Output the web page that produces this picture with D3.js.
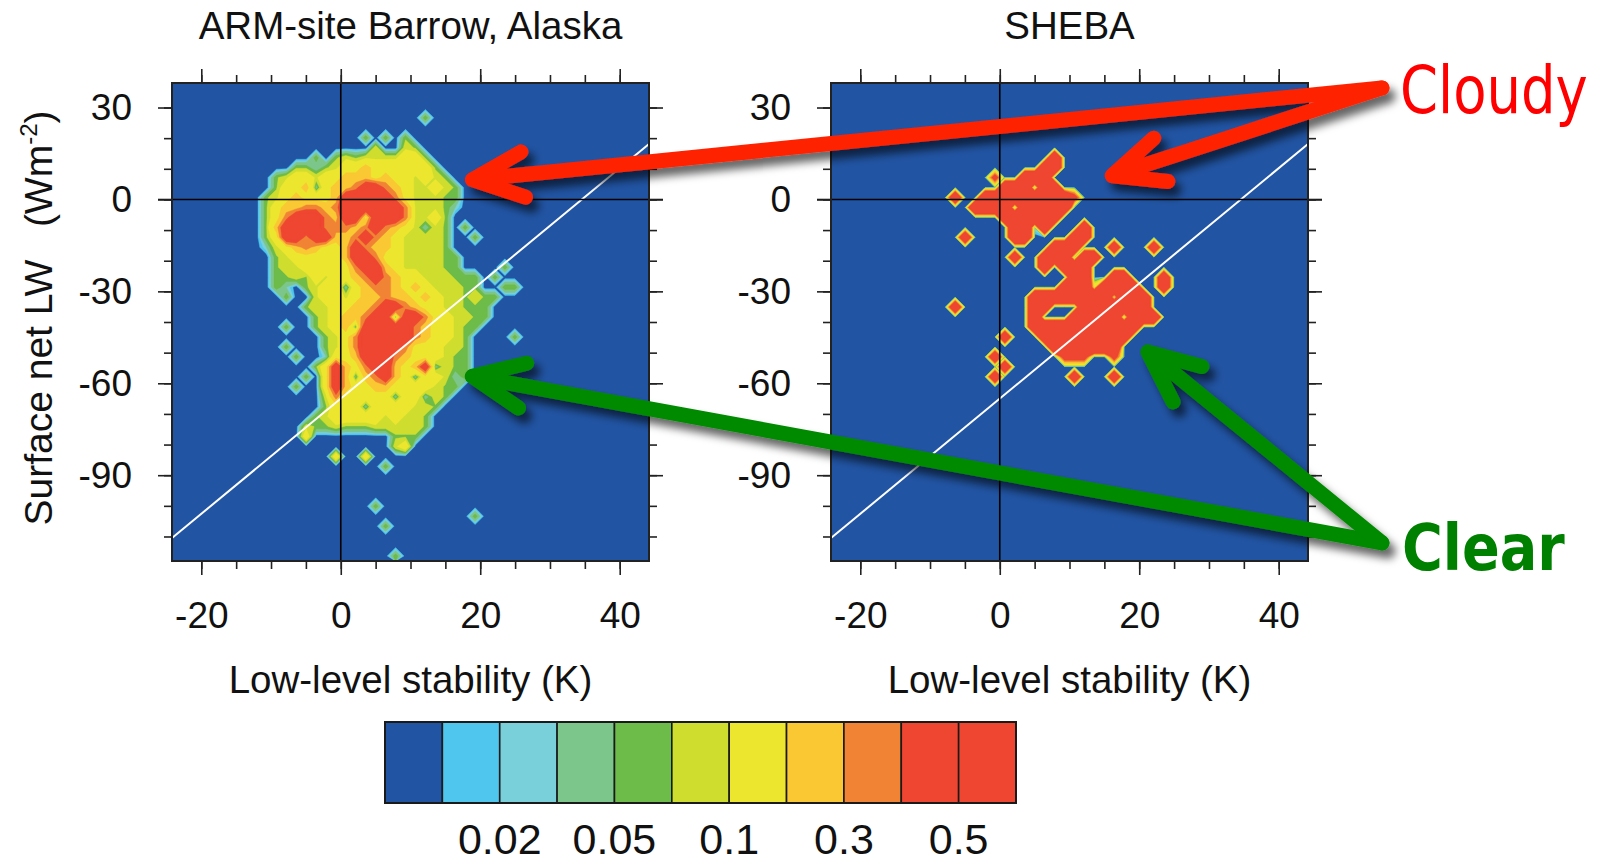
<!DOCTYPE html>
<html>
<head>
<meta charset="utf-8">
<script src="https://cdn.jsdelivr.net/npm/d3@7"></script>
<style>
  html, body { margin: 0; padding: 0; background: #ffffff; }
  svg { display: block; }
  text { font-family: "Liberation Sans", Arial, Helvetica, sans-serif; fill: #111; }
</style>
</head>
<body>
<svg id="chart" width="1605" height="864"></svg>
<script>
// ---- contour levels and colours (colour i fills values between level i-1 and level i)
const levels = [0.01, 0.02, 0.03, 0.05, 0.07, 0.1, 0.2, 0.3, 0.4, 0.5];
const levelColors = ["#2154a3", "#4fc6ee", "#79d0db", "#7dc68b", "#6dbb48", "#cedd2e",
                     "#ede62f", "#f9c833", "#f08434", "#ee4631", "#ee4631"];
const levelLabels = ["", "0.02", "", "0.05", "", "0.1", "", "0.3", "", "0.5"];

// ---- axes
const xDomain = [-24.2, 44.2];
const yDomain = [-118, 38];
const xTicks = [-20, 0, 20, 40];
const xMinorTicks = d3.range(-20, 45, 5);
const yTicks = [30, 0, -30, -60, -90];
const yMinorTicks = d3.range(-110, 31, 10);

// cloudy / clear separation line: LW = slope * stability + intercept
const lineSlope = 1.88;
const lineIntercept = -65;

// ---- joint frequency on a 48 x 48 grid (row 0 = top, column 0 = left)
// each run: [row, first column, digit codes]; digit -> frequency via codeValues
const gridSize = 48;
const codeValues = [0, 0.03, 0.065, 0.09, 0.15, 0.25, 0.35, 0.6, 1.0, 1.2];

const barrowRuns = [
  [3, 25, "2"],
  [5, 19, "20202"],
  [6, 20, "30032"],
  [7, 14, "2"],
  [7, 16, "2323333442"],
  [8, 12, "221234454444442"],
  [9, 10, "234434455545443432"],
  [10, 10, "2445145567765433432"],
  [11, 9, "23454445777776433322"],
  [12, 9, "24556656777777633321"],
  [13, 9, "2467776577477763342"],
  [14, 9, "257777666567654313202"],
  [15, 9, "2477677556765433332002"],
  [16, 9, "1345654457655433332"],
  [17, 10, "2344444577644333322"],
  [18, 10, "2334444467754333322"],
  [18, 33, "2"],
  [19, 10, "223243445676544333222"],
  [19, 32, "2"],
  [20, 10, "210234414566545433322"],
  [20, 33, "22"],
  [21, 11, "2003443455655454332322"],
  [22, 13, "2334455677654433222"],
  [23, 14, "234556771776443322"],
  [24, 11, "2"],
  [24, 14, "23451777776544322"],
  [25, 15, "234677777654432"],
  [25, 34, "2"],
  [26, 11, "2"],
  [26, 15, "234677776444332"],
  [27, 12, "2"],
  [27, 15, "144577765444322"],
  [28, 14, "2475467754571322"],
  [29, 13, "2"],
  [29, 15, "475156754144312"],
  [30, 12, "2"],
  [30, 15, "47544554444322"],
  [31, 15, "3644444144132"],
  [32, 15, "244414444332"],
  [33, 14, "234444434332"],
  [34, 13, "3223222333332"],
  [35, 13, "4"],
  [35, 22, "222"],
  [36, 22, "34"],
  [37, 16, "4"],
  [37, 19, "4"],
  [38, 21, "2"],
  [42, 20, "2"],
  [43, 30, "2"],
  [44, 21, "2"],
  [47, 22, "2"]
];

const shebaRuns = [
  [7, 22, "9"],
  [8, 21, "99"],
  [9, 16, "7"],
  [9, 19, "999"],
  [10, 17, "999199"],
  [11, 12, "8"],
  [11, 15, "9999999997"],
  [12, 14, "9999199999"],
  [13, 17, "999999"],
  [14, 18, "9919"],
  [14, 25, "9"],
  [15, 13, "8"],
  [15, 18, "99"],
  [15, 24, "99"],
  [16, 22, "999"],
  [16, 28, "8"],
  [16, 32, "8"],
  [17, 18, "8"],
  [17, 21, "999199"],
  [18, 21, "90999"],
  [19, 24, "99"],
  [19, 28, "99"],
  [19, 33, "8"],
  [20, 23, "99949999"],
  [20, 33, "8"],
  [21, 20, "999999994999"],
  [22, 12, "8"],
  [22, 20, "990009999999"],
  [23, 20, "9000999991999"],
  [24, 20, "99999999999"],
  [25, 17, "8"],
  [25, 21, "999999999"],
  [26, 22, "9999999"],
  [27, 16, "8"],
  [27, 23, "777"],
  [27, 28, "7"],
  [28, 17, "8"],
  [29, 16, "8"],
  [29, 24, "8"],
  [29, 28, "8"]
];

// ---- annotation arrows: tails given in SHEBA panel coordinates, heads in their own panel
const arrowSpecs = [
  { color: "#ff2200", tail: [54.8, 36.4],   head: { panel: 0, at: [17.8, 6.2] } },
  { color: "#ff2200", tail: [54.8, 36.4],   head: { panel: 1, at: [15.1, 7.0] } },
  { color: "#008a00", tail: [54.8, -112.1], head: { panel: 0, at: [17.8, -57.3] } },
  { color: "#008a00", tail: [54.8, -112.1], head: { panel: 1, at: [20.4, -48.2] } }
];

// ---------------------------------------------------------------------------
const svg = d3.select("#chart");
const plotTop = 83, plotW = 477, plotH = 478;
const panels = [
  { title: "ARM-site Barrow, Alaska", runs: barrowRuns, left: 172 },
  { title: "SHEBA", runs: shebaRuns, left: 831 }
];
const tickFormat = d => String(d);

const defs = svg.append("defs");
const shadow = defs.append("filter").attr("id", "arrowShadow")
  .attr("filterUnits", "userSpaceOnUse")
  .attr("x", 0).attr("y", 0).attr("width", 1605).attr("height", 864);
shadow.append("feDropShadow")
  .attr("dx", 6).attr("dy", 8).attr("stdDeviation", 4.5)
  .attr("flood-color", "#000").attr("flood-opacity", 0.6);

function buildGrid(runs) {
  const values = new Array(gridSize * gridSize).fill(0);
  runs.forEach(([row, col, codes]) => {
    for (let i = 0; i < codes.length; i++) {
      values[row * gridSize + col + i] = codeValues[+codes[i]];
    }
  });
  return values;
}

const contourGen = d3.contours().size([gridSize, gridSize]).thresholds(levels);
const cellX = (xDomain[1] - xDomain[0]) / gridSize;
const cellY = (yDomain[1] - yDomain[0]) / gridSize;

panels.forEach((p, idx) => {
  p.x = d3.scaleLinear().domain(xDomain).range([p.left, p.left + plotW]);
  p.y = d3.scaleLinear().domain(yDomain).range([plotTop + plotH, plotTop]);
  const x = p.x, y = p.y;
  const g = svg.append("g").attr("class", "panel");

  const clipId = "clip" + idx;
  defs.append("clipPath").attr("id", clipId)
    .append("rect").attr("x", p.left).attr("y", plotTop).attr("width", plotW).attr("height", plotH);

  const body = g.append("g").attr("clip-path", `url(#${clipId})`);
  body.append("rect")
    .attr("x", p.left).attr("y", plotTop).attr("width", plotW).attr("height", plotH)
    .attr("fill", levelColors[0]);

  // grid coordinates -> data -> pixels
  const proj = d3.geoTransform({
    point(gx, gy) {
      this.stream.point(x(xDomain[0] + gx * cellX), y(yDomain[1] - gy * cellY));
    }
  });
  const path = d3.geoPath(proj);
  const bands = contourGen(buildGrid(p.runs));
  body.selectAll("path.band").data(bands).join("path")
    .attr("class", "band")
    .attr("d", path)
    .attr("fill", (d, i) => levelColors[i + 1])
    .attr("stroke", (d, i) => levelColors[i + 1])
    .attr("stroke-width", 0.4);

  // separation line
  body.append("line")
    .attr("x1", x(xDomain[0])).attr("y1", y(lineSlope * xDomain[0] + lineIntercept))
    .attr("x2", x(xDomain[1])).attr("y2", y(lineSlope * xDomain[1] + lineIntercept))
    .attr("stroke", "#ffffff").attr("stroke-width", 2);

  // zero lines
  body.append("line")
    .attr("x1", x(0)).attr("x2", x(0)).attr("y1", plotTop).attr("y2", plotTop + plotH)
    .attr("stroke", "#000").attr("stroke-width", 1.6);
  g.append("line")
    .attr("x1", p.left - 14).attr("x2", p.left + plotW + 14).attr("y1", y(0)).attr("y2", y(0))
    .attr("stroke", "#000").attr("stroke-width", 1.6);

  // frame
  g.append("rect")
    .attr("x", p.left).attr("y", plotTop).attr("width", plotW).attr("height", plotH)
    .attr("fill", "none").attr("stroke", "#222").attr("stroke-width", 2);

  const styleAxis = sel => {
    sel.select(".domain").remove();
    sel.selectAll(".tick line").attr("stroke", "#222").attr("stroke-width", 1.6);
    sel.selectAll(".tick text").style("font-size", "37px").attr("fill", "#111")
      .attr("font-family", "Liberation Sans, Arial, sans-serif");
  };

  // minor ticks on all sides
  g.append("g").attr("transform", `translate(0,${plotTop + plotH})`)
    .call(d3.axisBottom(x).tickValues(xMinorTicks).tickSize(8).tickFormat("")).call(styleAxis);
  g.append("g").attr("transform", `translate(0,${plotTop})`)
    .call(d3.axisTop(x).tickValues(xMinorTicks).tickSize(8).tickFormat("")).call(styleAxis);
  g.append("g").attr("transform", `translate(${p.left},0)`)
    .call(d3.axisLeft(y).tickValues(yMinorTicks).tickSize(8).tickFormat("")).call(styleAxis);
  g.append("g").attr("transform", `translate(${p.left + plotW},0)`)
    .call(d3.axisRight(y).tickValues(yMinorTicks).tickSize(8).tickFormat("")).call(styleAxis);

  // major ticks with labels
  g.append("g").attr("transform", `translate(0,${plotTop + plotH})`)
    .call(d3.axisBottom(x).tickValues(xTicks).tickSize(14).tickPadding(27).tickFormat(tickFormat))
    .call(styleAxis);
  g.append("g").attr("transform", `translate(0,${plotTop})`)
    .call(d3.axisTop(x).tickValues(xTicks).tickSize(14).tickFormat("")).call(styleAxis);
  g.append("g").attr("transform", `translate(${p.left},0)`)
    .call(d3.axisLeft(y).tickValues(yTicks).tickSize(14).tickPadding(26).tickFormat(tickFormat))
    .call(styleAxis);
  g.append("g").attr("transform", `translate(${p.left + plotW},0)`)
    .call(d3.axisRight(y).tickValues(yTicks).tickSize(14).tickFormat("")).call(styleAxis);

  // titles
  g.append("text")
    .attr("x", p.left + plotW / 2).attr("y", 39)
    .attr("text-anchor", "middle").style("font-size", "38.5px")
    .text(p.title);
  g.append("text")
    .attr("x", p.left + plotW / 2).attr("y", 693)
    .attr("text-anchor", "middle").style("font-size", "38.5px")
    .text("Low-level stability (K)");
});

// y axis title
const yTitle = svg.append("text")
  .attr("transform", `translate(52,${plotTop + plotH / 2 - 4}) rotate(-90)`)
  .attr("text-anchor", "middle").style("font-size", "39px");
yTitle.append("tspan").text("Surface net LW\u00a0\u00a0 (Wm");
yTitle.append("tspan").attr("dy", -15).style("font-size", "24px").text("-2");
yTitle.append("tspan").attr("dy", 15).text(")");

// ---- colour bar
const cb = { left: 385, right: 1016, top: 722, bottom: 803 };
const cbScale = d3.scaleLinear().domain([0, levelColors.length]).range([cb.left, cb.right]);
const cbg = svg.append("g");
cbg.selectAll("rect.box").data(levelColors).join("rect")
  .attr("class", "box")
  .attr("x", (d, i) => cbScale(i)).attr("y", cb.top)
  .attr("width", (d, i) => cbScale(i + 1) - cbScale(i)).attr("height", cb.bottom - cb.top)
  .attr("fill", d => d).attr("stroke", "#1a1a1a").attr("stroke-width", 1.6);
cbg.append("rect")
  .attr("x", cb.left).attr("y", cb.top).attr("width", cb.right - cb.left).attr("height", cb.bottom - cb.top)
  .attr("fill", "none").attr("stroke", "#1a1a1a").attr("stroke-width", 2);
cbg.selectAll("text.lab").data(levels.map((v, i) => ({ v, i, label: levelLabels[i] })).filter(d => d.label))
  .join("text").attr("class", "lab")
  .attr("x", d => cbScale(d.i + 1)).attr("y", 854)
  .attr("text-anchor", "middle").style("font-size", "43px")
  .text(d => d.label);

// ---- annotation arrows
const arrowG = svg.append("g").attr("filter", "url(#arrowShadow)");
const strokeW = 15, barbLen = 56, barbAngle = 24 * Math.PI / 180;
arrowSpecs.forEach(a => {
  const hp = panels[a.head.panel];
  const ox = panels[1].x(a.tail[0]), oy = panels[1].y(a.tail[1]);
  const hx = hp.x(a.head.at[0]), hy = hp.y(a.head.at[1]);
  const th = Math.atan2(oy - hy, ox - hx);
  // pull the stroked point back so the rounded join ends at the head position
  const tx = hx + strokeW / 2 * Math.cos(th), ty = hy + strokeW / 2 * Math.sin(th);
  const b1 = [tx + barbLen * Math.cos(th - barbAngle), ty + barbLen * Math.sin(th - barbAngle)];
  const b2 = [tx + barbLen * Math.cos(th + barbAngle), ty + barbLen * Math.sin(th + barbAngle)];
  const p = d3.path();
  p.moveTo(b1[0], b1[1]); p.lineTo(tx, ty); p.lineTo(b2[0], b2[1]);
  p.moveTo(tx, ty); p.lineTo(ox, oy);
  arrowG.append("path").attr("d", p.toString())
    .attr("fill", "none").attr("stroke", a.color)
    .attr("stroke-width", strokeW).attr("stroke-linecap", "round").attr("stroke-linejoin", "round");
});

// ---- annotation words (horizontally condensed humanist sans)
svg.append("text")
  .attr("transform", "translate(1400,113) scale(0.825,1)")
  .style("font-family", "'DejaVu Sans', Verdana, sans-serif").style("font-size", "66px")
  .style("fill", "#ff0000")
  .text("Cloudy");
svg.append("text")
  .attr("transform", "translate(1402,570) scale(0.87,1)")
  .style("font-family", "'DejaVu Sans', Verdana, sans-serif").style("font-size", "64px")
  .style("font-weight", "bold").style("fill", "#008000")
  .text("Clear");
</script>
</body>
</html>
